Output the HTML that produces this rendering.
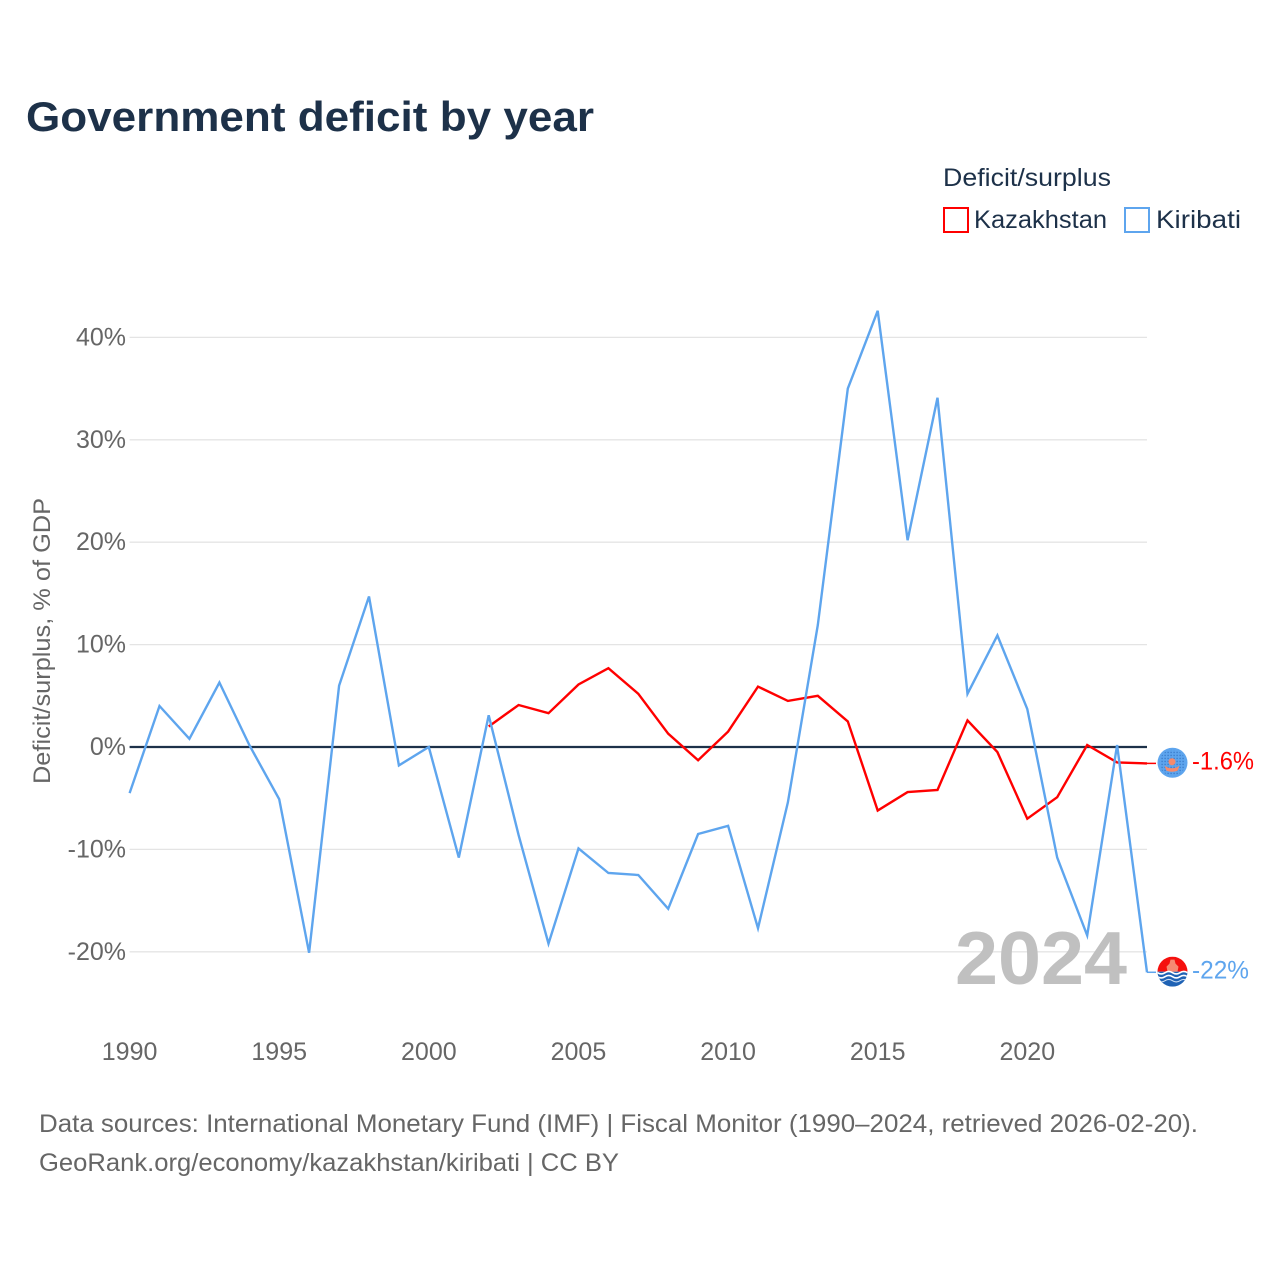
<!DOCTYPE html>
<html lang="en">
<head>
<meta charset="utf-8">
<title>Government deficit by year</title>
<style>
html,body{margin:0;padding:0;background:#fff;}
svg{display:block;font-family:"Liberation Sans",sans-serif;}
</style>
</head>
<body>
<svg id="chart" xmlns="http://www.w3.org/2000/svg" width="1280" height="1280" viewBox="0 0 1280 1280">
  <defs>
    <pattern id="dotPattern" width="3" height="3" patternUnits="userSpaceOnUse">
      <rect x="1" y="1" width="1.2" height="1.2" fill="#1f5fb0" opacity="0.75"/>
    </pattern>
    <clipPath id="flagClip"><circle cx="0" cy="0" r="15"/></clipPath>
  </defs>
  <rect x="0" y="0" width="1280" height="1280" fill="#ffffff"/>
  <text x="26" y="131" font-size="42" font-weight="700" fill="#1d3149" textLength="568" lengthAdjust="spacingAndGlyphs">Government deficit by year</text>

  <g>
    <text x="943" y="186" font-size="25" fill="#1d3149" textLength="168" lengthAdjust="spacingAndGlyphs">Deficit/surplus</text>
    <rect x="944" y="208" width="24" height="24" fill="none" stroke="#ff0000" stroke-width="2"/>
    <text x="974" y="228" font-size="25" fill="#1d3149" textLength="133" lengthAdjust="spacingAndGlyphs">Kazakhstan</text>
    <rect x="1125" y="208" width="24" height="24" fill="none" stroke="#5ea5ee" stroke-width="2"/>
    <text x="1156" y="228" font-size="25" fill="#1d3149" textLength="85" lengthAdjust="spacingAndGlyphs">Kiribati</text>
  </g>

  <g id="grid"></g>
  <text x="1127" y="984" text-anchor="end" font-size="75" font-weight="700" fill="#c0c0c0" textLength="172" lengthAdjust="spacingAndGlyphs">2024</text>
  <g id="yTicks"></g>
  <g id="xTicks"></g>
  <text transform="translate(50,784) rotate(-90)" font-size="24" fill="#666666" textLength="286" lengthAdjust="spacingAndGlyphs">Deficit/surplus, % of GDP</text>
  <line id="zeroLine" stroke="#1d3149" stroke-width="2.2"/>

  <polyline id="lineKaz" fill="none" stroke="#ff0000" stroke-width="2.4" stroke-linejoin="miter"/>
  <polyline id="lineKir" fill="none" stroke="#5ea5ee" stroke-width="2.4" stroke-linejoin="miter"/>

  <g id="endKaz">
    <line id="leadKaz" stroke="#ff0000" stroke-width="1.5"/>
    <g id="flagKaz">
      <circle cx="0" cy="0" r="15" fill="#5ea5ee"/>
      <circle cx="0" cy="0" r="13" fill="url(#dotPattern)"/>
      <circle cx="-0.5" cy="-1" r="3.5" fill="#f58a6c"/>
      <path d="M-8,3 Q-0.5,8 7,3 L5,8 Q-0.5,10 -6,8 Z" fill="#f58a6c"/>
    </g>
    <text id="labelKaz" font-size="25" fill="#ff0000" textLength="62" lengthAdjust="spacingAndGlyphs">-1.6%</text>
  </g>
  <g id="endKir">
    <line id="leadKir" stroke="#5ea5ee" stroke-width="1.5"/>
    <g id="flagKir">
      <g clip-path="url(#flagClip)">
        <rect x="-15" y="-15" width="30" height="15" fill="#f5100e"/>
        <rect x="-15" y="0" width="30" height="15" fill="#1f62b4"/>
        <path d="M-2,-12 L2,-12 L3,-8 L6,-5 L5,0 L-5,0 L-6,-5 L-3,-8 Z" fill="#f58a72"/>
        <path d="M-15,1 q3.75,2.5 7.5,0 t7.5,0 t7.5,0 t7.5,0" fill="none" stroke="#ffffff" stroke-width="1.6"/>
        <path d="M-15,5 q3.75,2.5 7.5,0 t7.5,0 t7.5,0 t7.5,0" fill="none" stroke="#ffffff" stroke-width="1.6"/>
        <path d="M-15,9 q3.75,2.5 7.5,0 t7.5,0 t7.5,0 t7.5,0" fill="none" stroke="#cfe0f5" stroke-width="1"/>
      </g>
    </g>
    <text id="labelKir" font-size="25" fill="#5ea5ee" textLength="57" lengthAdjust="spacingAndGlyphs">-22%</text>
  </g>

  <g>
    <text x="39" y="1132" font-size="25" fill="#666666" textLength="1159" lengthAdjust="spacingAndGlyphs">Data sources: International Monetary Fund (IMF) | Fiscal Monitor (1990–2024, retrieved 2026-02-20).</text>
    <text x="39" y="1171" font-size="25" fill="#666666" textLength="580" lengthAdjust="spacingAndGlyphs">GeoRank.org/economy/kazakhstan/kiribati | CC BY</text>
  </g>
</svg>
<script>
const years = [1990,1991,1992,1993,1994,1995,1996,1997,1998,1999,2000,2001,2002,2003,2004,2005,2006,2007,2008,2009,2010,2011,2012,2013,2014,2015,2016,2017,2018,2019,2020,2021,2022,2023,2024];
const kiribatiValues = [-4.5,4.0,0.8,6.3,0.2,-5.1,-20.1,6.0,14.7,-1.8,0.0,-10.8,3.1,-8.6,-19.2,-9.9,-12.3,-12.5,-15.8,-8.5,-7.7,-17.7,-5.4,11.9,35.0,42.6,20.2,34.1,5.2,10.9,3.7,-10.8,-18.4,0.2,-22.0];
const kazakhstanYears = [2002,2003,2004,2005,2006,2007,2008,2009,2010,2011,2012,2013,2014,2015,2016,2017,2018,2019,2020,2021,2022,2023,2024];
const kazakhstanValues = [2.0,4.1,3.3,6.1,7.7,5.2,1.3,-1.3,1.5,5.9,4.5,5.0,2.5,-6.2,-4.4,-4.2,2.6,-0.5,-7.0,-4.9,0.2,-1.5,-1.6];
const yTickValues = [-20,-10,0,10,20,30,40];
const xTickValues = [1990,1995,2000,2005,2010,2015,2020];

const NS = 'http://www.w3.org/2000/svg';
const plotLeft = 129.6, plotRight = 1147, zeroY = 747, pxPerPercent = 10.24;
const xScale = function (year) {
  return plotLeft + (year - years[0]) * (plotRight - plotLeft) / (years[years.length - 1] - years[0]);
};
const yScale = function (value) {
  return zeroY - value * pxPerPercent;
};
const byId = function (id) { return document.getElementById(id); };

yTickValues.forEach(function (v) {
  if (v !== 0) {
    const g = document.createElementNS(NS, 'line');
    
    
    g.setAttribute('x1', plotLeft);
    g.setAttribute('x2', plotRight);
    g.setAttribute('y1', yScale(v));
    g.setAttribute('y2', yScale(v));
    g.setAttribute('stroke', '#e4e4e4');
    g.setAttribute('stroke-width', '1.3');
    byId('grid').appendChild(g);
  }
  const t = document.createElementNS(NS, 'text');
  
  
  t.setAttribute('x', 126);
  t.setAttribute('y', yScale(v) + 8);
  t.setAttribute('text-anchor', 'end');
  t.setAttribute('font-size', '25');
  t.setAttribute('fill', '#666666');
  t.textContent = v + '%';
  byId('yTicks').appendChild(t);
});

xTickValues.forEach(function (yr) {
  const t = document.createElementNS(NS, 'text');
  
  
  t.setAttribute('x', xScale(yr));
  t.setAttribute('y', 1060);
  t.setAttribute('text-anchor', 'middle');
  t.setAttribute('font-size', '25');
  t.setAttribute('fill', '#666666');
  t.textContent = yr;
  byId('xTicks').appendChild(t);
});

const zero = byId('zeroLine');
zero.setAttribute('x1', plotLeft);
zero.setAttribute('x2', plotRight);
zero.setAttribute('y1', yScale(0));
zero.setAttribute('y2', yScale(0));

byId('lineKir').setAttribute('points', years.map(function (yr, i) {
  return xScale(yr).toFixed(1) + ',' + yScale(kiribatiValues[i]).toFixed(1);
}).join(' '));
byId('lineKaz').setAttribute('points', kazakhstanYears.map(function (yr, i) {
  return xScale(yr).toFixed(1) + ',' + yScale(kazakhstanValues[i]).toFixed(1);
}).join(' '));

const placeEnd = function (lead, flag, label, value) {
  const y = yScale(value);
  const flagY = y - 0.6;
  const leader = byId(lead);
  leader.setAttribute('x1', plotRight);
  leader.setAttribute('x2', 1156);
  leader.setAttribute('y1', y);
  leader.setAttribute('y2', y);
  byId(flag).setAttribute('transform', 'translate(1172.5,' + flagY + ')');
  const text = byId(label);
  text.setAttribute('x', 1192);
  text.setAttribute('y', y + 6);
};
placeEnd('leadKaz', 'flagKaz', 'labelKaz', kazakhstanValues[kazakhstanValues.length - 1]);
placeEnd('leadKir', 'flagKir', 'labelKir', kiribatiValues[kiribatiValues.length - 1]);
</script>
</body>
</html>
